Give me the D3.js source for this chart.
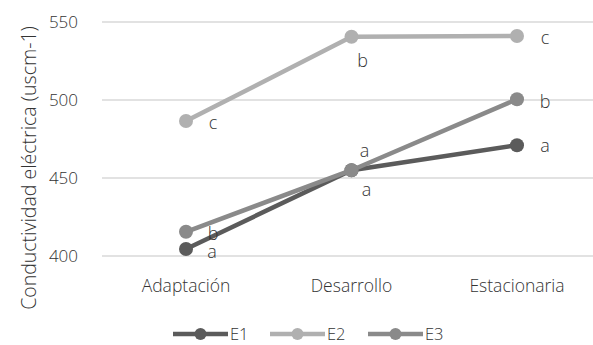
<!DOCTYPE html>
<html><head><meta charset="utf-8">
<script src="https://cdn.jsdelivr.net/npm/d3@7"></script>
<style>body{margin:0;background:#fff}svg{display:block}text{font-family:"Open Sans","Noto Sans",sans-serif;font-weight:300;fill:#333}</style>
</head><body><svg id="c" width="593" height="345"></svg>
<script>
const categories = ["Adaptación","Desarrollo","Estacionaria"];
const seriesNames = ["E1","E2","E3"];
const E1 = [404.5, 455, 471];
const E2 = [486.5, 540.5, 541];
const E3 = [415.5, 455, 500.5];
const labelsE1 = ["a","a","a"];
const labelsE2 = ["c","b","c"];
const labelsE3 = ["b","a","b"];
const yTicks = [400,450,500,550];
const colors = ["#5b5b5b","#b0b0b0","#8a8a8a"];

const svg = d3.select("#c");
const x = d3.scalePoint().domain(categories).range([186,517]);
const y = d3.scaleLinear().domain([400,550]).range([256,22]);

const grid = svg.append("g");
yTicks.forEach(t=>{
  grid.append("line").attr("x1",102).attr("x2",593).attr("y1",y(t)).attr("y2",y(t))
    .attr("stroke","#d9d9d9").attr("stroke-width",1.3);
  grid.append("text").attr("x",78).attr("y",y(t)).attr("dy","0.36em").attr("text-anchor","end")
    .attr("font-size",17).text(t);
});
categories.forEach(c=>{
  svg.append("text").attr("x",x(c)).attr("y",292).attr("text-anchor","middle").attr("font-size",17.5).text(c);
});
svg.append("text").attr("transform","translate(36,168) rotate(-90)").attr("text-anchor","middle")
  .attr("font-size",19.5).text("Conductividad eléctrica (uscm-1)");

const series = [E1,E2,E3];
const line = d3.line().x((d,i)=>x(categories[i])).y(d=>y(d));
series.forEach((s,k)=>{
  svg.append("path").attr("d",line(s)).attr("fill","none").attr("stroke",colors[k]).attr("stroke-width",4.5).attr("stroke-linecap","round");
  s.forEach((v,i)=>svg.append("circle").attr("cx",x(categories[i])).attr("cy",y(v)).attr("r",7).attr("fill",colors[k]));
});

// data label offsets per series / category: [dx, dy]
const labelSets = [labelsE1,labelsE2,labelsE3];
const placements = [
  [[26,9],[15,26],[28,7]],
  [[27,8],[11,30],[28,8]],
  [[27,8],[13,-13],[28,9]]
];
labelSets.forEach((ls,k)=>{
  ls.forEach((l,i)=>{
    const p = placements[k][i];
    svg.append("text").attr("x",x(categories[i])+p[0]).attr("y",y(series[k][i])+p[1])
      .attr("text-anchor","middle").attr("font-size",18).text(l);
  });
});

// legend
const lx = [173,270,368];
seriesNames.forEach((n,k)=>{
  const g = svg.append("g").attr("transform",`translate(${lx[k]},334)`);
  g.append("line").attr("x1",0).attr("x2",55).attr("stroke",colors[k]).attr("stroke-width",4.5);
  g.append("circle").attr("cx",27.5).attr("r",6).attr("fill",colors[k]);
  g.append("text").attr("x",57).attr("dy","0.36em").attr("font-size",16.5).text(n);
});
</script></body></html>
